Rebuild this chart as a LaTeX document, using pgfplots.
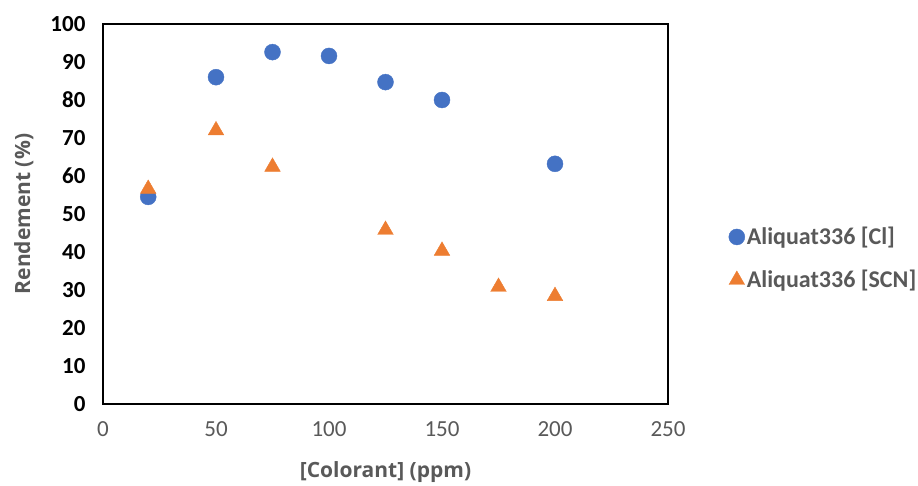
\documentclass[border=0pt]{standalone}
\usepackage{pgfplots}
\pgfplotsset{compat=1.18}
\usepackage{fontspec}
\setmainfont{Carlito}
\newfontfamily\labelfont{Open Sans}
\definecolor{cblue}{HTML}{4472C4}
\definecolor{corange}{HTML}{ED7D31}
\definecolor{tgray}{HTML}{595959}
\begin{document}
\begin{tikzpicture}[x=1pt,y=1pt]
\useasboundingbox (0,0) rectangle (918,486);
\begin{axis}[
  at={(103pt,82pt)}, anchor=south west,
  scale only axis, width=565pt, height=380pt,
  xmin=0, xmax=250, ymin=0, ymax=100,
  xtick={0,50,...,250}, ytick={0,10,...,100},
  major tick length=0pt,
  axis line style={line width=1.6pt, black},
  /pgf/number format/assume math mode=true,
  xticklabel style={font=\fontsize{23}{23}\selectfont, text=tgray, yshift=-14pt},
  yticklabel style={font=\fontsize{23}{23}\selectfont\bfseries, text=black, xshift=-14pt},
  xlabel={[Colorant] (ppm)},
  ylabel={Rendement (\%)},
  label style={font=\labelfont\fontsize{21}{21}\selectfont\bfseries, text=tgray},
  xlabel style={at={(axis description cs:0.5,0)}, anchor=north, yshift=-54pt},
  ylabel style={at={(axis description cs:0,0.5)}, anchor=south, rotate=0, xshift=0pt, yshift=66pt},
  legend style={at={(axis description cs:1.102,0.383)}, anchor=west, draw=none, fill=none,
    font=\fontsize{24}{24}\selectfont\bfseries, text=tgray, row sep=20pt},
  legend cell align=left,
]
\addplot[only marks, mark=*, mark size=8pt, color=cblue, mark options={fill=cblue, draw=cblue}]
  coordinates {(20,54.5) (50,86) (75,92.6) (100,91.6) (125,84.7) (150,80) (200,63.2)};
\addlegendentry{Aliquat336 [Cl]}
\addplot[only marks, mark=triangle*, mark size=9pt, color=corange, mark options={fill=corange, draw=corange}]
  coordinates {(20,56.6) (50,72) (75,62.4) (125,45.8) (150,40.3) (175,30.8) (200,28.4)};
\addlegendentry{Aliquat336 [SCN]}
\end{axis}
\end{tikzpicture}
\end{document}
